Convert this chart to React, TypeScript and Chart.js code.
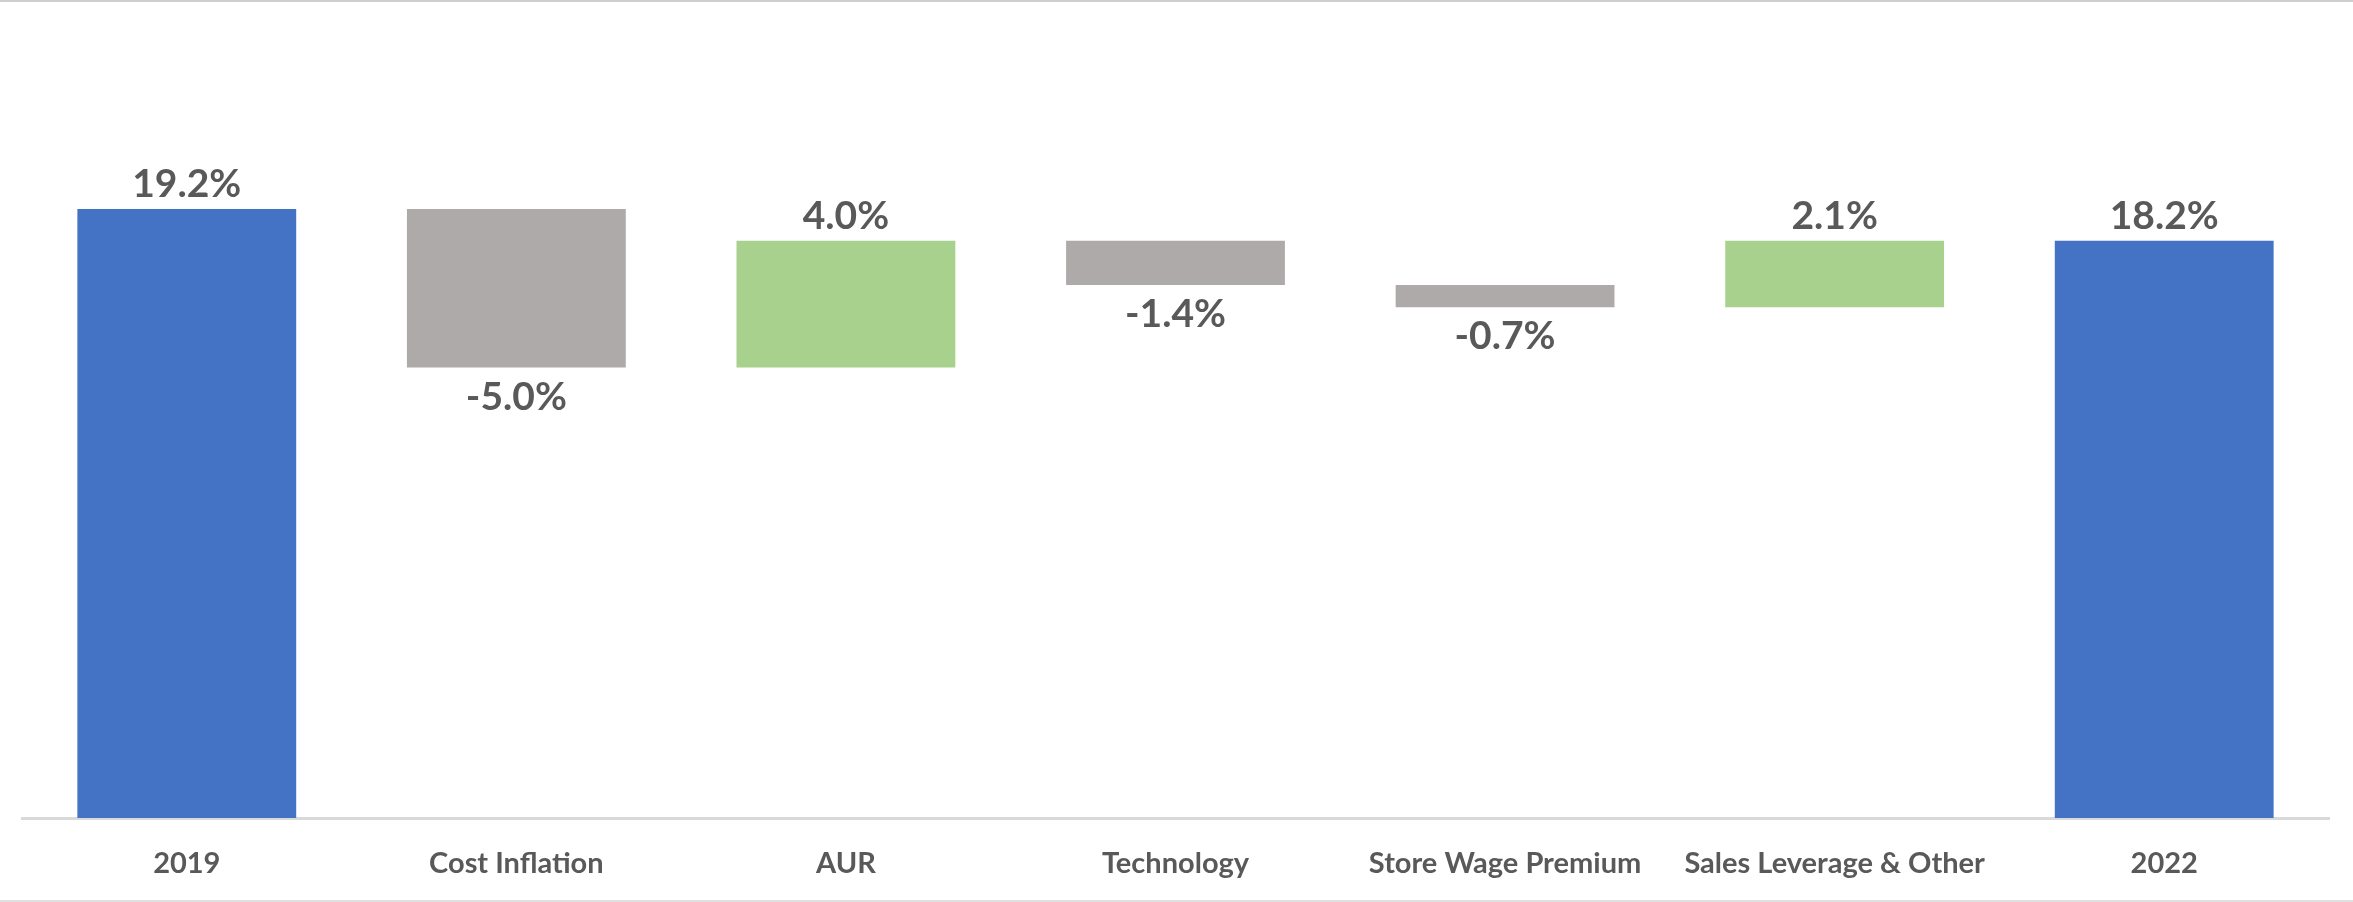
import React, { useEffect, useRef } from "react";
import { Chart, registerables } from "chart.js";

Chart.register(...registerables);

// ---- data ----
const categories: string[] = [
  "2019",
  "Cost Inflation",
  "AUR",
  "Technology",
  "Store Wage Premium",
  "Sales Leverage & Other",
  "2022",
];
const changes: number[] = [19.2, -5.0, 4.0, -1.4, -0.7, 2.1, 18.2];
const isTotal: boolean[] = [true, false, false, false, false, false, true];
const yMin = 0;
const yMax = 25;

// ---- styles ----
const totalColor = "#4472C4";
const upColor = "#A9D18E";
const downColor = "#AEAAAA";
const textColor = "#595959";
const W = 2353;
const H = 902;

function buildRanges(): [number, number][] {
  let running = 0;
  return changes.map((v, i) => {
    if (isTotal[i]) {
      running = v;
      return [0, v] as [number, number];
    }
    const start = running;
    running = +(running + v).toFixed(4);
    return [start, running] as [number, number];
  });
}

const labelPlugin = {
  id: "wfLabels",
  afterDatasetsDraw(chart: any) {
    const ctx = chart.ctx;
    const meta = chart.getDatasetMeta(0);
    ctx.save();
    ctx.font = "bold 39px Lato";
    ctx.fillStyle = textColor;
    ctx.textAlign = "center";
    ctx.textBaseline = "alphabetic";
    meta.data.forEach((bar: any, i: number) => {
      const { x, y, base } = bar.getProps(["x", "y", "base"], true);
      const top = Math.min(y, base);
      const bottom = Math.max(y, base);
      const v = changes[i];
      const text = v.toFixed(1) + "%";
      if (v >= 0) ctx.fillText(text, x, top - 12);
      else ctx.fillText(text, x, bottom + 42);
    });
    ctx.restore();
  },
};

const framePlugin = {
  id: "frameLines",
  beforeDraw(chart: any) {
    const ctx = chart.ctx;
    ctx.save();
    ctx.fillStyle = "#FFFFFF";
    ctx.fillRect(0, 0, chart.width, chart.height);
    ctx.fillStyle = "#CFCFCF";
    ctx.fillRect(0, 0, chart.width, 2);
    ctx.fillStyle = "#E0E0E0";
    ctx.fillRect(0, chart.height - 2, chart.width, 2);
    ctx.restore();
  },
};

export default function App() {
  const ref = useRef<HTMLCanvasElement | null>(null);

  useEffect(() => {
    let chart: Chart | null = null;
    let cancelled = false;
    const make = () => {
      if (cancelled || !ref.current) return;
      const ranges = buildRanges();
      const colors = changes.map((v, i) =>
        isTotal[i] ? totalColor : v >= 0 ? upColor : downColor
      );
      chart = new Chart(ref.current, {
        type: "bar",
        data: {
          labels: categories,
          datasets: [
            {
              data: ranges as any,
              backgroundColor: colors,
              borderWidth: 0,
              borderSkipped: false,
              categoryPercentage: 1,
              barPercentage: 0.664,
            },
          ],
        },
        options: {
          animation: false,
          responsive: false,
          maintainAspectRatio: false,
          layout: { padding: { left: 22, right: 24, top: 25, bottom: 0 } },
          plugins: {
            legend: { display: false },
            tooltip: { enabled: false },
          },
          scales: {
            x: {
              grid: { display: false, drawTicks: false },
              border: { display: true, color: "#D9D9D9", width: 3 },
              ticks: {
                font: { family: "Lato", weight: "bold", size: 29 },
                color: textColor,
                padding: 28,
                maxRotation: 0,
                autoSkip: false,
              },
              afterFit: (s: any) => {
                s.height = 84;
              },
            },
            y: { display: false, min: yMin, max: yMax },
          },
        } as any,
        plugins: [framePlugin, labelPlugin],
      });
    };
    const fontsReady = (document as any).fonts
      ? Promise.all([
          (document as any).fonts.load("bold 39px Lato"),
          (document as any).fonts.load("bold 29px Lato"),
        ]).catch(() => null)
      : Promise.resolve(null);
    fontsReady.then(make);
    return () => {
      cancelled = true;
      if (chart) chart.destroy();
    };
  }, []);

  return (
    <div style={{ position: "absolute", left: 0, top: 0, width: W, height: H, background: "#fff" }}>
      <canvas ref={ref} width={W} height={H} style={{ width: W, height: H, display: "block" }} />
    </div>
  );
}
